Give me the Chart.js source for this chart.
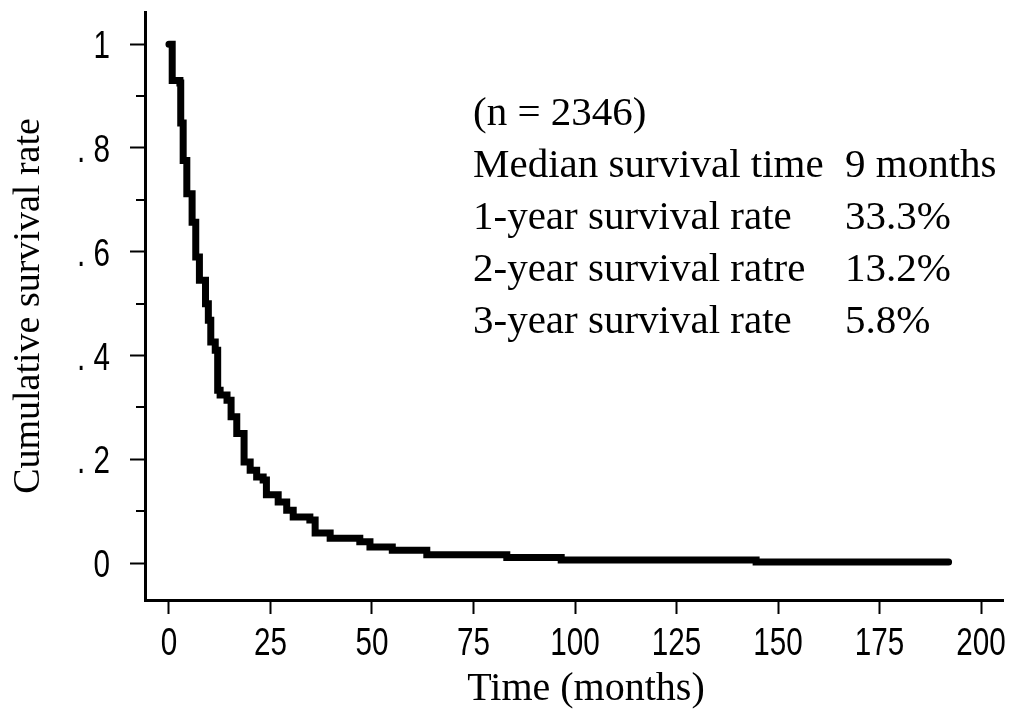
<!DOCTYPE html>
<html>
<head>
<meta charset="utf-8">
<script src="https://cdn.jsdelivr.net/npm/chart.js@4/dist/chart.umd.min.js"></script>
<style>
  html, body { margin: 0; padding: 0; background: #fff; }
  canvas { display: block; }
</style>
</head>
<body>
<canvas id="kmChart" width="1016" height="715"></canvas>
<script>
// Kaplan-Meier survival, all patients (time in months)
const months = [0, 0.8, 2.7, 2.9, 3.5, 4.4, 5.7, 6.6, 7.5, 9, 9.7, 10.3, 11.4, 12, 12.6, 14.3, 15.3, 16.7, 18.5, 20, 21.6, 23.2, 24, 26.9, 29, 30.6, 34.7, 36, 39.7, 47, 49.5, 55, 63.5, 83.2, 96.6, 144.6, 192];
const survival = [1, 0.93, 0.925, 0.848, 0.776, 0.712, 0.657, 0.59, 0.545, 0.5, 0.468, 0.426, 0.41, 0.333, 0.324, 0.314, 0.282, 0.25, 0.195, 0.179, 0.166, 0.16, 0.132, 0.118, 0.102, 0.089, 0.083, 0.058, 0.048, 0.041, 0.031, 0.025, 0.016, 0.011, 0.006, 0.002, 0.002];

const xTickLabels = ['0', '25', '50', '75', '100', '125', '150', '175', '200'];
const yTickLabels = ['0', '. 2', '. 4', '. 6', '. 8', '1'];
const yMinorTicks = [0.1, 0.3, 0.5, 0.7, 0.9];

const summaryLabels = ['(n = 2346)', 'Median survival time', '1-year survival rate', '2-year survival ratre', '3-year survival rate'];
const summaryValues = ['', '9 months', '33.3%', '13.2%', '5.8%'];

const serif = "'Liberation Serif', 'Times New Roman', serif";
const sans = "'Liberation Sans', Arial, sans-serif";

// narrow tick labels: Arial squeezed horizontally
function narrowText(ctx, text, x, y, align) {
  ctx.save();
  ctx.translate(x, y);
  ctx.scale(0.78, 1);
  ctx.textAlign = align;
  ctx.fillText(text, 0, 0);
  ctx.restore();
}

const tickText = {
  id: 'tickText',
  afterDraw(chart) {
    const { x, y } = chart.scales, ctx = chart.ctx;
    ctx.save();
    ctx.fillStyle = '#000';
    ctx.font = '38px ' + sans;
    ctx.textBaseline = 'alphabetic';
    x.ticks.forEach(t => {
      narrowText(ctx, xTickLabels[Math.round(t.value / 25)], x.getPixelForValue(t.value), x.top + 55, 'center');
    });
    y.ticks.forEach(t => {
      narrowText(ctx, yTickLabels[Math.round(t.value / 0.2)], y.right - 35, y.getPixelForValue(t.value) + 14, 'right');
    });
    // short unlabelled ticks between the labelled ones
    ctx.strokeStyle = '#000';
    ctx.lineWidth = 2;
    yMinorTicks.forEach(v => {
      const py = Math.round(y.getPixelForValue(v));
      ctx.beginPath();
      ctx.moveTo(y.right - 9, py);
      ctx.lineTo(y.right, py);
      ctx.stroke();
    });
    // x axis title
    ctx.font = '40px ' + serif;
    ctx.textAlign = 'center';
    ctx.fillText('Time (months)', 586, x.top + 100);
    ctx.restore();
  }
};

// summary text block in the upper right
const summary = {
  id: 'summary',
  afterDraw(chart) {
    const a = chart.chartArea, ctx = chart.ctx;
    ctx.save();
    ctx.fillStyle = '#000';
    ctx.font = '41px ' + serif;
    ctx.textBaseline = 'alphabetic';
    summaryLabels.forEach((t, i) => {
      const by = a.top + 113 + i * 52;
      ctx.fillText(t, a.left + 328, by);
      if (summaryValues[i]) ctx.fillText(summaryValues[i], a.left + 700, by);
    });
    ctx.restore();
  }
};

new Chart(document.getElementById('kmChart').getContext('2d'), {
  type: 'line',
  data: {
    datasets: [{
      data: months.map((m, i) => ({ x: m, y: survival[i] })),
      borderColor: '#000',
      borderWidth: 7,
      borderCapStyle: 'round',
      borderJoinStyle: 'miter',
      stepped: 'before',
      pointRadius: 0,
      fill: false
    }]
  },
  options: {
    responsive: false,
    animation: false,
    layout: { padding: { top: 12, right: 13, left: 0, bottom: 0 } },
    plugins: { legend: { display: false }, tooltip: { enabled: false } },
    scales: {
      x: {
        type: 'linear',
        min: -5.9,
        max: 205.4,
        afterFit: s => { s.height = 115; s.paddingLeft = 0; s.paddingRight = 0; },
        border: { display: true, color: '#000', width: 3 },
        grid: { drawOnChartArea: false, drawTicks: true, tickLength: 14, tickWidth: 2, tickColor: '#000' },
        ticks: { stepSize: 25, includeBounds: false, display: false }
      },
      y: {
        min: -0.071,
        max: 1.062,
        afterFit: s => { s.width = 145; s.paddingTop = 0; s.paddingBottom = 0; },
        border: { display: true, color: '#000', width: 3 },
        grid: { drawOnChartArea: false, drawTicks: true, tickLength: 15, tickWidth: 2, tickColor: '#000' },
        ticks: { stepSize: 0.2, includeBounds: false, display: false },
        title: { display: true, text: 'Cumulative survival rate', color: '#000',
                 font: { family: serif, size: 38 }, padding: { top: 6, bottom: 0 } }
      }
    }
  },
  plugins: [tickText, summary]
});
</script>
</body>
</html>
